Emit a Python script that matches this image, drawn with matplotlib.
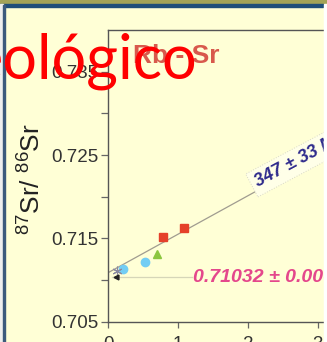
import matplotlib
matplotlib.use("Agg")
import matplotlib.pyplot as plt
from matplotlib.patches import Rectangle

plt.rcParams['font.family'] = ['Liberation Sans', 'DejaVu Sans']
plt.rcParams['mathtext.fontset'] = 'custom'
plt.rcParams['mathtext.rm'] = 'Liberation Sans'
plt.rcParams['mathtext.it'] = 'Liberation Sans:italic'
plt.rcParams['mathtext.bf'] = 'Liberation Sans:bold'

# --- data ---
sq_x = [0.78, 1.08]
sq_y = [0.71513, 0.71621]
tri_x = [0.70]
tri_y = [0.71309]
circ_x = [0.215, 0.525]
circ_y = [0.71132, 0.71213]
star_x = [0.12]
star_y = [0.71112]
blk_x = [0.106]
blk_y = [0.7104]

iso_x = [-0.1, 2.146]
iso_y = [0.71043, 0.7208]
init_x = [0.05, 1.2]
init_y = [0.71032, 0.71032]

yticks = [0.705, 0.715, 0.725, 0.735]
yminor = [0.710, 0.720, 0.730]
xticks = [0, 1, 2, 3]

bg = '#ffffd6'
W, H = 327, 342

fig = plt.figure(figsize=(W / 100, H / 100), dpi=100, facecolor=bg)
ax = fig.add_axes([108.3 / W, 20.3 / H, 279.6 / W, 291.7 / H])
ax.set_facecolor(bg)

ax.plot(iso_x, iso_y, color='#a09c90', lw=0.9, zorder=2)
ax.plot(init_x, init_y, color='#d6d6b8', lw=0.9, zorder=1)

ax.plot(sq_x, sq_y, 's', ms=5.5, color='#e5402a', zorder=3)
ax.plot(tri_x, tri_y, '^', ms=6, color='#8cc63e', zorder=3)
ax.plot(circ_x, circ_y, 'o', ms=6, color='#72cdf4', zorder=3)
ax.plot(star_x, star_y, marker=(6, 2, 0), ms=7, color='#8a8aa0', mew=0.8,
        ls='none', zorder=4)
ax.plot(blk_x, blk_y, '<', ms=3.5, color='#222222', zorder=4)

ax.set_xlim(0, 4)
ax.set_ylim(0.705, 0.740)
ax.set_yticks(yticks)
ax.set_yticks(yminor, minor=True)
ax.set_yticklabels(['%.3f' % v for v in yticks])
ax.set_xticks(xticks)
ax.set_xticklabels([str(v) for v in xticks])

for s in ax.spines.values():
    s.set_color('#555555')
    s.set_linewidth(1.0)
ax.tick_params(axis='both', which='both', direction='out', color='#666666',
               width=0.9, labelsize=13.5, labelcolor='#333333')
ax.tick_params(axis='y', which='both', length=5, pad=2)
ax.tick_params(axis='x', which='major', length=4, pad=6)

ax.set_ylabel(r'$^{87}$Sr/ $^{86}$Sr', fontsize=19, color='#222222')
ax.yaxis.set_label_coords(-0.223, 0.49)

# isochron annotations
ax.text(2.11, 0.7216, '347 ± 33 Ma', rotation=28, rotation_mode='anchor',
        ha='left', va='center', fontsize=13, fontweight='bold',
        fontstyle='italic', color='#2e2a8c', zorder=5,
        bbox=dict(boxstyle='square,pad=0.25', fc='#ffffe8', ec='#d8d8c8',
                  lw=0.7, ls=':'))
ax.text(1.215, 0.71036, '0.71032 ± 0.00036', ha='left', va='center',
        fontsize=14, fontweight='bold', fontstyle='italic',
        color='#e4478c', zorder=5)

fig.text(133 / W, 1 - 63 / H, 'Rb - Sr', fontsize=19, fontweight='bold',
         color='#d65045', alpha=0.95, va='baseline', ha='left', zorder=5)

# slide title fragment lying on top of the chart
fig.text(197 / W, 1 - 78 / H, 'eológico', fontsize=44, family='Lato',
         color='#ff0000', ha='right', va='baseline', zorder=10)

# slide frame pieces
fig.patches.append(Rectangle((0, 1 - 4 / H), 1, 4 / H, transform=fig.transFigure,
                             color='#a3a357', zorder=8))
fig.patches.append(Rectangle((0, 1 - 6.5 / H), 323 / W, 2.5 / H,
                             transform=fig.transFigure, color='#1f4e79', zorder=8))
fig.patches.append(Rectangle((0, 0), 3 / W, 1 - 4 / H, transform=fig.transFigure,
                             color='#eeeeee', zorder=8))
fig.patches.append(Rectangle((3 / W, 0), 2 / W, 1 - 5 / H, transform=fig.transFigure,
                             color='#3c5a7c', zorder=8))
fig.patches.append(Rectangle((324 / W, 0), 3 / W, 1 - 4 / H,
                             transform=fig.transFigure, color='#ffffff', zorder=8))

fig.savefig('out.png', dpi=100, facecolor=bg)
